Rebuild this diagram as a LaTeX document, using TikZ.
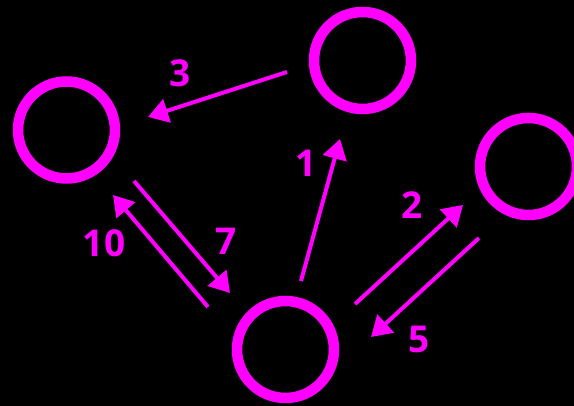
\documentclass[tikz,border=0pt]{standalone}
\usepackage{fontspec}
\setmainfont{Open Sans}
\usetikzlibrary{arrows.meta,calc}
\definecolor{mag}{RGB}{255,0,255}
\begin{document}
\begin{tikzpicture}[x=1pt,y=-1pt,
  state/.style={circle,draw=mag,line width=10.5pt,minimum size=97pt,inner sep=0pt},
  edge/.style={draw=mag,line width=4pt,-{Triangle[length=20pt,width=24pt]}},
  lbl/.style={text=mag,inner sep=0pt,font=\fontsize{37}{37}\selectfont\bfseries}]
\fill[black] (0,0) rectangle (574,406);
\useasboundingbox (0,0) rectangle (574,406);
\node[state] (a) at (66.5,130) {};
\node[state] (b) at (362.5,60.5) {};
\node[state] (c) at (528.5,166.5) {};
\node[state] (d) at (285.5,349.5) {};
% endpoints
\coordinate (b3) at ($(b)+(-75.5,11.5)$);
\coordinate (a3) at ($(a)+(81.5,-13)$);
\coordinate (d1) at ($(d)+(15.5,-68.5)$);
\coordinate (b1) at ($(b)+(-22.5,78.5)$);
\coordinate (d2) at ($(d)+(69.5,-45.5)$);
\coordinate (c2) at ($(c)+(-65.5,38.5)$);
\coordinate (c5) at ($(c)+(-49.5,71.5)$);
\coordinate (d5) at ($(d)+(85.5,-12.5)$);
\coordinate (a7) at ($(a)+(67.5,51)$);
\coordinate (d7) at ($(d)+(-55.5,-56.5)$);
\coordinate (d10) at ($(d)+(-77.5,-42.5)$);
\coordinate (a10) at ($(a)+(46.5,65)$);
\draw[edge] (b3) -- (a3);
\draw[edge] (d1) -- (b1);
\draw[edge] (d2) -- (c2);
\draw[edge] (c5) -- (d5);
\draw[edge] (a7) -- (d7);
\draw[edge] (d10) -- (a10);
\node[lbl] (l3) at (180,73) {3};
\node[lbl] (l1) at (306,163) {1};
\node[lbl] (l2) at (412,205) {2};
\node[lbl] (l5) at (419,339) {5};
\node[lbl] (l7) at (226,241) {7};
\node[lbl] (l10) at (104,243) {10};
\end{tikzpicture}
\end{document}
